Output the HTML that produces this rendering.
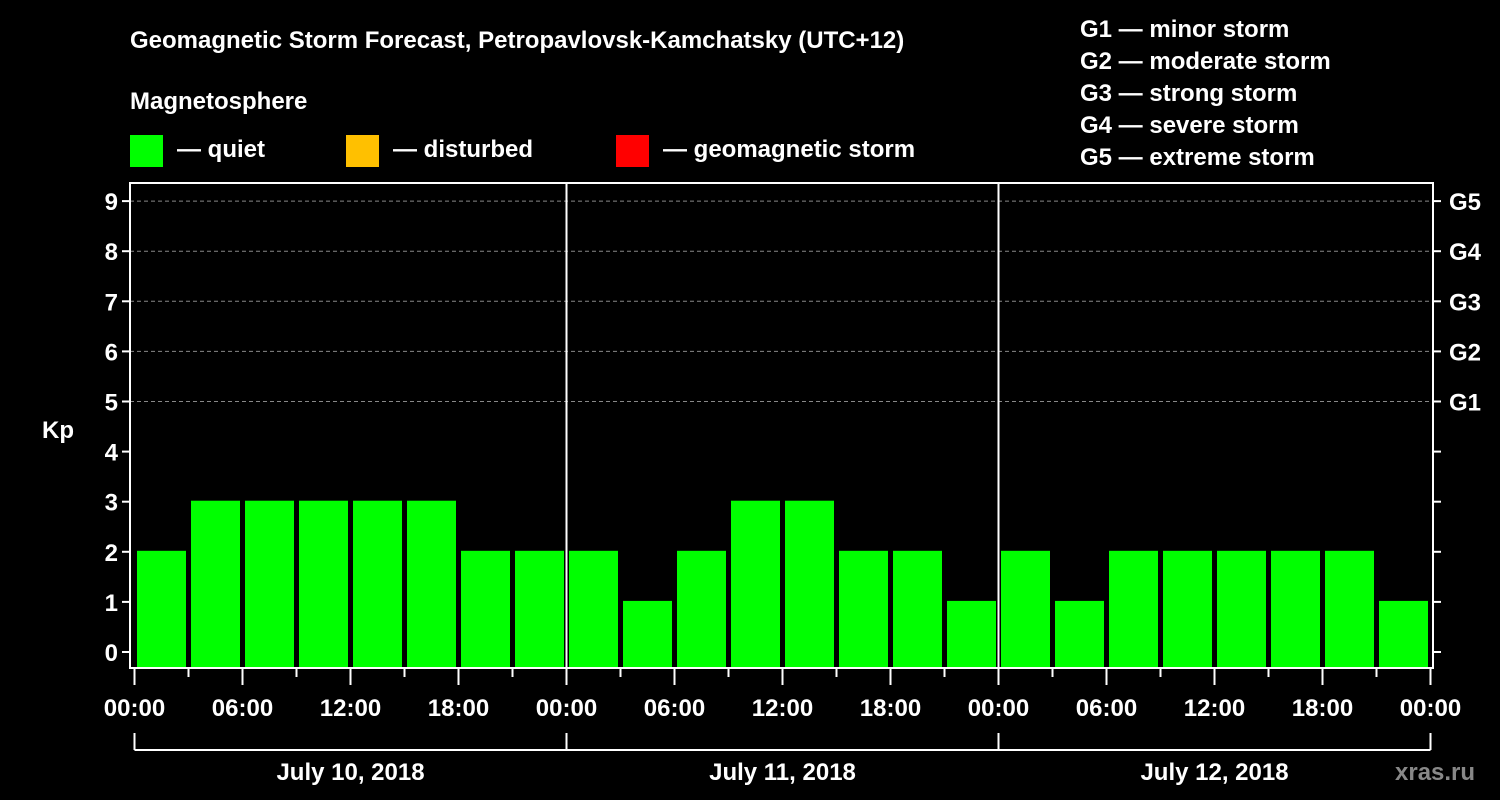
<!DOCTYPE html>
<html><head><meta charset="utf-8"><style>
html,body{margin:0;padding:0;background:#000;}
svg{display:block;font-family:"Liberation Sans",Arial,sans-serif;font-weight:bold;}
</style></head><body>
<svg id="chart" width="1500" height="800" viewBox="0 0 1500 800" xmlns="http://www.w3.org/2000/svg">
<rect x="0" y="0" width="1500" height="800" fill="#000"/>
<text x="130" y="48" fill="#fff" font-size="24">Geomagnetic Storm Forecast, Petropavlovsk-Kamchatsky (UTC+12)</text>
<text x="130" y="109" fill="#fff" font-size="24">Magnetosphere</text>
<g><rect x="130" y="135" width="33" height="32" fill="#00ff00"/><text x="177" y="157" fill="#fff" font-size="24">— quiet</text></g>
<g><rect x="346" y="135" width="33" height="32" fill="#ffc000"/><text x="393" y="157" fill="#fff" font-size="24">— disturbed</text></g>
<g><rect x="616" y="135" width="33" height="32" fill="#ff0000"/><text x="663" y="157" fill="#fff" font-size="24">— geomagnetic storm</text></g>
<g fill="#fff" font-size="24">
<text x="1080" y="37">G1 — minor storm</text>
<text x="1080" y="69">G2 — moderate storm</text>
<text x="1080" y="101">G3 — strong storm</text>
<text x="1080" y="133">G4 — severe storm</text>
<text x="1080" y="165">G5 — extreme storm</text>
</g>
<text x="42" y="438" fill="#fff" font-size="24">Kp</text>
<g id="grid"></g><g id="bars"></g><g id="axes"></g>
<text x="1395" y="780" fill="#888" font-size="24">xras.ru</text>
</svg>
<script>
const days = ["July 10, 2018","July 11, 2018","July 12, 2018"];
const kpValues = [2,3,3,3,3,3,2,2, 2,1,2,3,3,2,2,1, 2,1,2,2,2,2,2,1];
const yTicks = [0,1,2,3,4,5,6,7,8,9];
const gLabels = ["G1","G2","G3","G4","G5"];
const gLevels = [5,6,7,8,9];
const hourLabels = ["00:00","06:00","12:00","18:00"];

const NS="http://www.w3.org/2000/svg";
const X0=134.5, DAYW=432, PL=130, PR=1433, PT=183, PB=668;
const x = h => X0 + h*DAYW/24;
const y = v => 652 - v*50.1;
function mk(tag, attrs, parent){const e=document.createElementNS(NS,tag);for(const k in attrs)e.setAttribute(k,attrs[k]);parent.appendChild(e);return e;}
const grid=document.getElementById('grid'), bars=document.getElementById('bars'), axes=document.getElementById('axes');

gLevels.forEach((lv,i)=>{
  const l=mk('line',{x1:PL,x2:PR,y1:y(lv),y2:y(lv),stroke:'#888','stroke-width':1,'stroke-dasharray':'4,3'},grid);
  
  
  const t=mk('text',{x:1449,y:y(lv)+9,fill:'#fff','font-size':24},axes);
  t.textContent=gLabels[i];
  
  
});

kpValues.forEach((v,i)=>{
  const x1=x(i*3)+2.5, x2=x(i*3+3)-2.5;
  const b=mk('rect',{x:x1,y:y(v)-1,width:x2-x1,height:PB-y(v)+1,fill:'#00ff00'},bars);
  
  
});

// frame
const fr=mk('rect',{x:PL,y:PT,width:PR-PL,height:PB-PT,fill:'none',stroke:'#fff','stroke-width':2},axes);


for(let d=1;d<days.length;d++){
  const l=mk('line',{x1:x(d*24),x2:x(d*24),y1:PT,y2:PB,stroke:'#fff','stroke-width':2},axes);
  
  
}
yTicks.forEach(v=>{
  mk('line',{x1:PL-8,x2:PL,y1:y(v),y2:y(v),stroke:'#fff','stroke-width':2},axes);
  mk('line',{x1:PR,x2:PR+8,y1:y(v),y2:y(v),stroke:'#fff','stroke-width':2},axes);
  const t=mk('text',{x:PL-12,y:y(v)+9,fill:'#fff','font-size':24,'text-anchor':'end'},axes);
  t.textContent=v;
  
  
});
for(let h=0;h<=days.length*24;h+=3){
  const major=h%6===0;
  mk('line',{x1:x(h),x2:x(h),y1:PB,y2:major?685:677,stroke:'#fff','stroke-width':2},axes);
  if(major){
    const t=mk('text',{x:x(h),y:716,fill:'#fff','font-size':24,'text-anchor':'middle'},axes);
    t.textContent=hourLabels[(h%24)/6];
    
    
  }
}
mk('line',{x1:x(0),x2:x(days.length*24),y1:750,y2:750,stroke:'#fff','stroke-width':2},axes);
days.forEach((d,i)=>{
  mk('line',{x1:x(i*24),x2:x(i*24),y1:733,y2:750,stroke:'#fff','stroke-width':2},axes);
  const t=mk('text',{x:x(i*24+12),y:780,fill:'#fff','font-size':24,'text-anchor':'middle'},axes);
  t.textContent=d;
  
  
});
mk('line',{x1:x(days.length*24),x2:x(days.length*24),y1:733,y2:750,stroke:'#fff','stroke-width':2},axes);
</script>
</body></html>
